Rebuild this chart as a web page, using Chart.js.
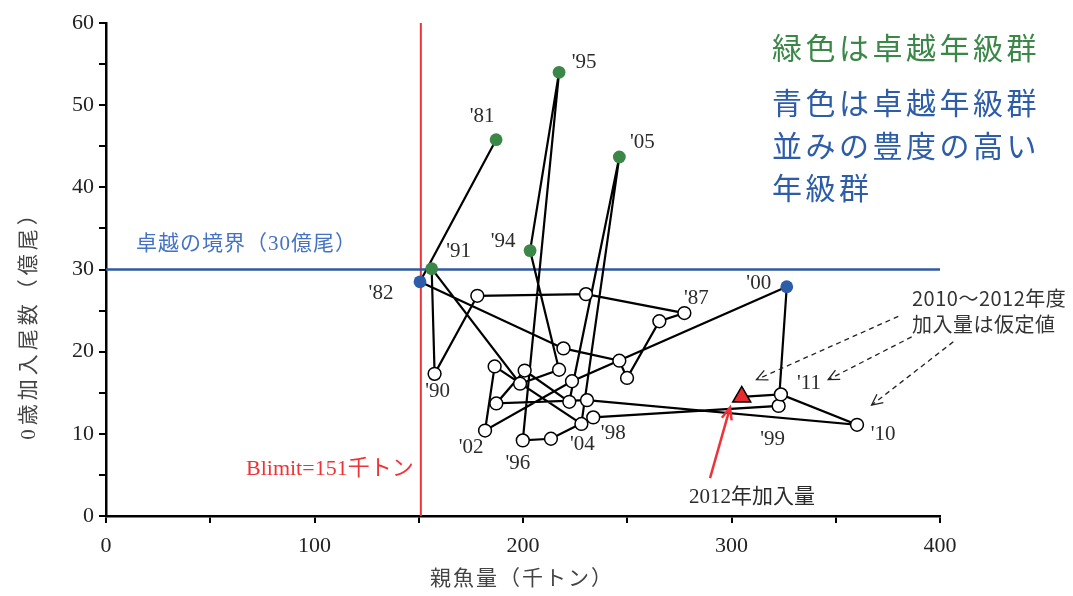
<!DOCTYPE html>
<html>
<head>
<meta charset="utf-8">
<script src="https://cdn.jsdelivr.net/npm/chart.js@4.4.1/dist/chart.umd.min.js"></script>
<style>
  html, body { margin: 0; padding: 0; background: #ffffff; }
  #wrap { width: 1073px; height: 596px; }
</style>
</head>
<body>
<div id="wrap"><canvas id="c" width="1073" height="596"></canvas></div>
<script>
// 年級（1981〜2012年）
const years = [1981, 1982, 1983, 1984, 1985, 1986, 1987, 1988, 1989, 1990,
               1991, 1992, 1993, 1994, 1995, 1996, 1997, 1998, 1999, 2000,
               2001, 2002, 2003, 2004, 2005, 2006, 2007, 2008, 2009, 2010,
               2011, 2012];
// 親魚量（千トン）
const spawningBiomass = [187.1, 150.6, 219.4, 246.2, 249.9, 265.4, 277.4, 230.2, 178.1, 157.6,
                         156.2, 198.6, 217.3, 203.4, 217.3, 199.9, 213.4, 233.7, 322.6, 326.5,
                         223.5, 181.8, 186.4, 228.0, 246.2, 222.2, 200.8, 187.2, 230.7, 360.2,
                         323.7, 304.9];
// 0歳加入尾数（億尾）
const recruits = [45.8, 28.5, 20.4, 18.9, 16.8, 23.7, 24.7, 27.0, 26.8, 17.3,
                  30.1, 16.1, 17.8, 32.3, 54.0, 9.2, 9.4, 12.0, 13.4, 27.9,
                  16.4, 10.4, 18.2, 11.2, 43.7, 13.9, 17.7, 13.7, 14.1, 11.1,
                  14.8, 14.5];
// 卓越年級群（緑）と、それに並ぶ豊度の高い年級群（青）
const dominantYears = [1981, 1991, 1994, 1995, 2005];
const highYears = [1982, 2000];
// 2012年加入量（三角）
const latestYear = 2012;
// 年ラベルを付ける年級
const labelledYears = [1981, 1982, 1987, 1990, 1991, 1994, 1995, 1996, 1998, 1999,
                       2000, 2002, 2004, 2005, 2010, 2011];
// 軸目盛
const xTickValues = [0, 100, 200, 300, 400];
const yTickValues = [0, 10, 20, 30, 40, 50, 60];
// 基準値
const blimit = 151;
const dominantLine = 30;

// 年ラベルの位置（点からのずれ, px）
const labelOffset = {
  1981: [-14, -23], 1982: [-39, 12], 1987: [12, -15], 1990: [3, 18],
  1991: [27, -17], 1994: [-27, -9], 1995: [25, -10], 1996: [-5, 23],
  1998: [20, 16], 1999: [-6, 34], 2000: [-28, -3], 2002: [-14, 17],
  2004: [1, 21], 2005: [23, -14], 2010: [26, 10], 2011: [28, -11]
};

const GREEN = '#3a8748';
const BLUE = '#2d5ca8';
const RED = '#ee3338';

const pathPoints = years.map((yr, i) => ({ x: spawningBiomass[i], y: recruits[i] }));
const fillOf = yr => dominantYears.includes(yr) ? GREEN
                  : highYears.includes(yr) ? BLUE
                  : yr === latestYear ? '#ea2a2f' : '#ffffff';
const borderOf = yr => dominantYears.includes(yr) ? GREEN
                  : highYears.includes(yr) ? BLUE : '#000000';

const serif = '"Liberation Serif", "Noto Sans CJK JP", serif';
const sans = '"Noto Sans CJK JP", "Noto Sans", sans-serif';

function setSpacing(ctx, px) {
  if ('letterSpacing' in ctx) ctx.letterSpacing = px + 'px';
}

function arrow(ctx, x1, y1, x2, y2, opt) {
  ctx.save();
  ctx.strokeStyle = opt.color;
  ctx.lineWidth = opt.width;
  ctx.setLineDash(opt.dash || []);
  ctx.beginPath();
  ctx.moveTo(x1, y1);
  ctx.lineTo(x2, y2);
  ctx.stroke();
  ctx.setLineDash([]);
  const a = Math.atan2(y2 - y1, x2 - x1);
  const h = opt.head, sp = opt.spread;
  ctx.beginPath();
  ctx.moveTo(x2 - h * Math.cos(a - sp), y2 - h * Math.sin(a - sp));
  ctx.lineTo(x2, y2);
  ctx.lineTo(x2 - h * Math.cos(a + sp), y2 - h * Math.sin(a + sp));
  ctx.stroke();
  ctx.restore();
}

const annotations = {
  id: 'annotations',
  afterDraw(chart) {
    const { ctx, scales: { x, y } } = chart;
    ctx.save();

    // 年ラベル
    ctx.fillStyle = '#2b2b2b';
    ctx.font = '21px ' + serif;
    ctx.textAlign = 'center';
    ctx.textBaseline = 'middle';
    labelledYears.forEach(yr => {
      const i = years.indexOf(yr);
      const off = labelOffset[yr];
      const px = x.getPixelForValue(spawningBiomass[i]) + off[0];
      const py = y.getPixelForValue(recruits[i]) + off[1];
      ctx.fillText("'" + String(yr).slice(2), px, py);
    });

    // 軸タイトル
    ctx.fillStyle = '#444444';
    ctx.font = '21px ' + serif;
    setSpacing(ctx, 2);
    ctx.fillText('親魚量（千トン）', 522, 579);
    ctx.save();
    ctx.translate(29, 320);
    ctx.rotate(-Math.PI / 2);
    setSpacing(ctx, 4);
    ctx.fillText('0歳加入尾数（億尾）', 0, 0);
    ctx.restore();
    setSpacing(ctx, 0);

    // 基準線のラベル
    ctx.textAlign = 'left';
    ctx.fillStyle = '#4472c4';
    ctx.font = '21px ' + serif;
    setSpacing(ctx, 1);
    ctx.fillText('卓越の境界（30億尾）', 136, 244);
    setSpacing(ctx, 0);
    ctx.fillStyle = RED;
    ctx.font = '22px ' + serif;
    ctx.fillText('Blimit=' + blimit + '千トン', 246, 469);

    // 凡例の説明
    ctx.font = '30px ' + sans;
    setSpacing(ctx, 3.5);
    ctx.fillStyle = GREEN;
    ctx.fillText('緑色は卓越年級群', 772, 48);
    ctx.fillStyle = BLUE;
    ctx.fillText('青色は卓越年級群', 772, 103);
    ctx.fillText('並みの豊度の高い', 772, 146);
    ctx.fillText('年級群', 772, 188);
    setSpacing(ctx, 0);

    // 仮定値の注記
    ctx.fillStyle = '#333333';
    ctx.font = '20px ' + sans;
    setSpacing(ctx, 0.5);
    ctx.fillText('2010～2012年度', 912, 298);
    ctx.fillText('加入量は仮定値', 912, 324);
    setSpacing(ctx, 0);
    const dashed = { color: '#222222', width: 1.3, dash: [5, 4], head: 12, spread: 0.45 };
    arrow(ctx, x.getPixelForValue(380.0), y.getPixelForValue(24.3), x.getPixelForValue(312.0), y.getPixelForValue(16.6), dashed);
    arrow(ctx, x.getPixelForValue(386.4), y.getPixelForValue(21.8), x.getPixelForValue(346.4), y.getPixelForValue(16.6), dashed);
    arrow(ctx, x.getPixelForValue(406.4), y.getPixelForValue(21.2), x.getPixelForValue(367.2), y.getPixelForValue(13.5), dashed);

    // 2012年加入量
    arrow(ctx, x.getPixelForValue(289.7), y.getPixelForValue(4.6), x.getPixelForValue(299.3), y.getPixelForValue(13.2),
          { color: RED, width: 2.5, head: 13, spread: 0.4 });
    ctx.fillStyle = '#2b2b2b';
    ctx.font = '21px ' + serif;
    ctx.textAlign = 'center';
    ctx.fillText(latestYear + '年加入量', 752, 497);

    ctx.restore();
  }
};

new Chart(document.getElementById('c'), {
  type: 'scatter',
  data: {
    datasets: [
      {
        data: pathPoints,
        showLine: true,
        borderColor: '#000000',
        borderWidth: 2.2,
        pointRadius: years.map(yr => yr === latestYear ? 10.4 : 6.4),
        pointStyle: years.map(yr => yr === latestYear ? 'triangle' : 'circle'),
        pointBackgroundColor: years.map(fillOf),
        pointBorderColor: years.map(borderOf),
        pointBorderWidth: years.map(yr => (dominantYears.includes(yr) || highYears.includes(yr)) ? 0 : 1.5),
        clip: false,
        order: 0
      },
      {
        data: [{ x: 0, y: dominantLine }, { x: 400, y: dominantLine }],
        showLine: true,
        borderColor: '#2f5aa5',
        borderWidth: 2.5,
        pointRadius: 0,
        clip: false,
        order: 1
      },
      {
        data: [{ x: blimit, y: 0 }, { x: blimit, y: 60 }],
        showLine: true,
        borderColor: RED,
        borderWidth: 2,
        pointRadius: 0,
        clip: false,
        order: 2
      }
    ]
  },
  options: {
    responsive: false,
    devicePixelRatio: 1,
    animation: false,
    events: [],
    layout: { padding: { top: 23, right: 133, left: 0, bottom: 0 } },
    plugins: { legend: { display: false }, tooltip: { enabled: false } },
    scales: {
      x: {
        type: 'linear',
        min: xTickValues[0],
        max: xTickValues[xTickValues.length - 1],
        afterFit: s => { s.height = 80; },
        ticks: {
          stepSize: 50,
          autoSkip: false,
          maxRotation: 0,
          padding: 10,
          color: '#222222',
          font: { family: serif, size: 22 },
          callback: v => xTickValues.includes(v) ? String(v) : ''
        },
        grid: { drawOnChartArea: false, drawTicks: true, tickLength: 7, color: '#000000', lineWidth: 2 },
        border: { color: '#000000', width: 2.5 }
      },
      y: {
        min: yTickValues[0],
        max: yTickValues[yTickValues.length - 1],
        afterFit: s => { s.width = 106; },
        ticks: {
          stepSize: 5,
          autoSkip: false,
          padding: 5,
          color: '#222222',
          font: { family: serif, size: 22 },
          callback: v => yTickValues.includes(v) ? String(v) : ''
        },
        grid: { drawOnChartArea: false, drawTicks: true, tickLength: 7, color: '#000000', lineWidth: 2 },
        border: { color: '#000000', width: 2.5 }
      }
    }
  },
  plugins: [annotations]
});
</script>
</body>
</html>
